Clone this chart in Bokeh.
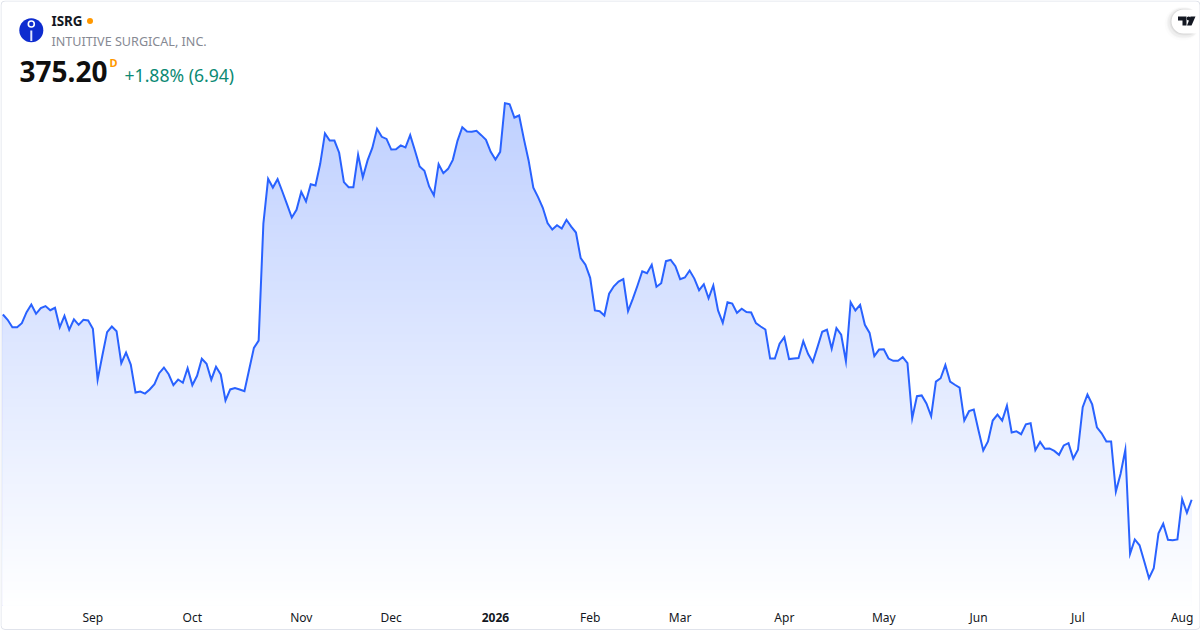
from bokeh.plotting import figure
from bokeh.embed import file_html
from bokeh.resources import INLINE
from bokeh.models import Label, BoxAnnotation, FixedTicker, Range1d, LinearAxis

symbol = "ISRG"
company = "INTUITIVE SURGICAL, INC."
last_price = "375.20"
interval = "D"
change = "+1.88% (6.94)"
tick_index = [19, 40, 63, 82, 104, 124, 143, 165, 186, 206, 227, 249]
tick_label = ["Sep", "Oct", "Nov", "Dec", "2026", "Feb", "Mar", "Apr", "May", "Jun", "Jul", "Aug"]
close = [
 474.1,471.3,467.3,467.3,469.5,475.4,479.5,474.5,477.5,478.6,476.4,477.7,467.3,473.4,466.0,471.5,468.6,471.3,470.9,466.5,
 439.3,452.2,464.7,467.7,465.2,448.1,453.8,447.4,432.5,433.0,431.9,434.1,436.9,442.8,445.8,442.2,436.4,439.4,437.7,445.4,
 436.4,441.4,450.5,447.8,439.3,446.2,442.1,428.2,434.1,434.8,434.1,433.2,444.8,456.3,460.2,
 522.7,546.6,541.9,546.4,539.8,532.9,525.9,530.0,539.6,534.5,543.7,543.0,554.6,570.8,567.0,567.0,560.5,544.8,542.1,542.1,
 559.4,547.4,556.4,563.1,573.3,569.0,567.9,562.2,562.4,564.4,563.3,569.9,561.7,553.2,550.9,542.5,537.7,554.4,549.6,551.9,
 556.7,567.0,574.1,571.8,571.7,572.2,569.9,567.4,561.0,556.9,561.0,587.0,586.4,579.3,580.4,567.9,556.4,541.9,536.8,531.1,522.9,
 519.5,521.8,520.0,524.7,521.1,517.9,504.2,500.7,493.7,476.3,475.9,473.6,485.2,489.2,491.7,493.0,475.9,482.5,489.6,497.2,
 496.2,500.7,488.9,490.8,502.6,503.3,499.9,493.0,493.9,497.6,493.3,487.1,490.3,482.8,489.6,476.3,469.7,480.7,480.0,475.0,
 477.2,475.4,475.2,469.5,467.7,466.1,450.6,450.6,458.5,462.0,450.3,450.6,450.9,
 459.9,453.1,448.7,456.7,464.9,466.0,455.8,466.8,463.3,449.2,480.7,476.3,479.3,468.6,464.3,451.9,455.4,455.6,450.6,449.4,
 449.4,451.3,448.1,418.7,430.5,430.9,426.6,419.8,438.3,440.1,447.1,438.3,436.6,435.1,417.5,422.5,423.4,412.2,401.5,406.3,
 417.5,420.7,417.5,425.4,411.1,411.8,410.2,415.5,416.1,
 401.7,406.1,402.4,402.6,401.3,399.2,404.2,405.4,397.2,401.9,424.6,431.4,426.1,413.9,410.7,406.3,406.3,379.6,389.1,401.9,
 346.3,354.0,350.9,342.2,333.3,338.6,357.3,362.4,353.8,353.6,354.0,375.5,368.26,375.20,
]

W, H = 1200, 630
GRAD_BOTTOM = 605
X_SCALE = 4.736
Y_SCALE = 0.534
x_start = -2.4 / X_SCALE
x_end = x_start + W / X_SCALE
y_end = 641.8
y_start = y_end - Y_SCALE * H

def px(x):
    return x_start + x / X_SCALE

def py(y):
    return y_end - Y_SCALE * y

p = figure(width=W, height=H, output_backend="svg", toolbar_location=None,
           x_range=Range1d(x_start, x_end), y_range=Range1d(y_start, y_end),
           min_border=0, background_fill_color="white", border_fill_color="white",
           outline_line_color=None)
p.grid.visible = False
p.yaxis.visible = False

def style_axis(ax, ticks, weight, at):
    ax.ticker = FixedTicker(ticks=ticks)
    ax.major_label_overrides = {i: tick_label[tick_index.index(i)] for i in ticks}
    ax.fixed_location = py(at)
    ax.axis_line_color = None
    ax.major_tick_line_color = None
    ax.minor_tick_line_color = None
    ax.major_label_text_font = "Noto Sans"
    ax.major_label_text_font_size = "12px"
    ax.major_label_text_color = "#131722"
    ax.major_label_text_font_style = weight
    ax.major_label_standoff = 4

year_ticks = [tick_index[tick_label.index("2026")]]
style_axis(p.xaxis[0], [i for i in tick_index if i not in year_ticks], "normal", 598.5)
year_axis = LinearAxis()
p.add_layout(year_axis, "below")
style_axis(year_axis, year_ticks, "bold", 602.5)

# gradient under the series, then white above it
n = len(close)
xs = list(range(n))
top_price, bottom_price = max(close), py(GRAD_BOTTOM)
n_bands = 125
lefts, rights, tops, bottoms, colors = [], [], [], [], []
for k in range(n_bands):
    t = k / n_bands
    alpha = 0.3 * (1 - t)
    colors.append("#%02x%02x%02x" % (round(255 - 214 * alpha), round(255 - 157 * alpha), 255))
    tops.append(top_price + 2 - (top_price + 2 - bottom_price) * t)
    bottoms.append(bottom_price)
    lefts.append(0)
    rights.append(n - 1)
p.quad(left=lefts, right=rights, top=tops, bottom=bottoms, fill_color=colors, line_color=None)
mask_x = [-1] + xs + [n]
mask_y = [close[0]] + close + [close[-1]]
p.varea(x=mask_x, y1=mask_y, y2=[y_end] * len(mask_x), fill_color="white")
p.line(xs, close, line_color="#2962ff", line_width=2, line_join="miter")


def label(text, x, y, size, color, weight="normal", font="Noto Sans", align="left"):
    p.add_layout(Label(x=px(x), y=py(y), text=text, text_font=font, text_font_size=size,
                       text_color=color, text_font_style=weight, text_align=align,
                       text_baseline="middle", level="overlay"))

label(symbol, 51, 20.5, "13.4px", "#131722", "bold")
label(company, 51, 41, "12.6px", "#868993")
label(last_price, 19, 71, "28px", "#0f0f0f", "bold")
label(interval, 109, 61.5, "11px", "#ff9800", "bold")
label(change, 124, 74, "17.6px", "#0b8a74")

# symbol logo
p.scatter([px(30.8)], [py(29.8)], size=24, fill_color="#0e2ccf", line_color=None).level = "overlay"
p.scatter([px(30.8)], [py(23.5)], size=6, fill_color=None, line_color="white", line_width=1.6).level = "overlay"
p.segment([px(30.8)], [py(30)], [px(30.8)], [py(40.5)], line_color="#dfe4ff", line_width=2).level = "overlay"
p.scatter([px(89.5)], [py(20.5)], size=6, fill_color="#ff9800", line_color=None).level = "overlay"

# card border
p.add_layout(BoxAnnotation(left=px(0.5), right=px(1199.5), top=py(0.5), bottom=py(629), fill_color=None,
                           fill_alpha=0, line_color="#e0e3eb", line_alpha=1, line_width=1, border_radius=4, level="overlay"))

# TradingView badge: soft shadow, white pill, mark
for grow, a in [(7, 0.012), (5, 0.02), (4, 0.03), (2, 0.04), (1, 0.05)]:
    p.add_layout(BoxAnnotation(left=px(1171 - grow), right=px(1200), top=py(9 - grow * 0.4), bottom=py(33 + grow),
                               fill_color="#000000", fill_alpha=a, line_color=None,
                               border_radius=12 + grow, level="annotation"))
p.add_layout(BoxAnnotation(left=px(1171), right=px(1200), top=py(9), bottom=py(33), fill_color="white",
                           fill_alpha=1, line_color=None, border_radius={"top_left": 12, "bottom_left": 12, "top_right": 0, "bottom_right": 0},
                           level="annotation"))
logo_x = [[1177.5, 1186, 1186, 1182, 1182, 1177.5, 1177.5], [1190, 1195, 1191, 1186.5]]
logo_y = [[16, 16, 25, 25, 20, 20, 16], [16, 16, 25, 25]]
p.patches([[px(v) for v in r] for r in logo_x], [[py(v) for v in r] for r in logo_y],
          fill_color="#131722", line_color=None).level = "overlay"
p.scatter([px(1188.2)], [py(18)], size=4, fill_color="#131722", line_color=None).level = "overlay"

open("out.html", "w").write(file_html(p, INLINE))
